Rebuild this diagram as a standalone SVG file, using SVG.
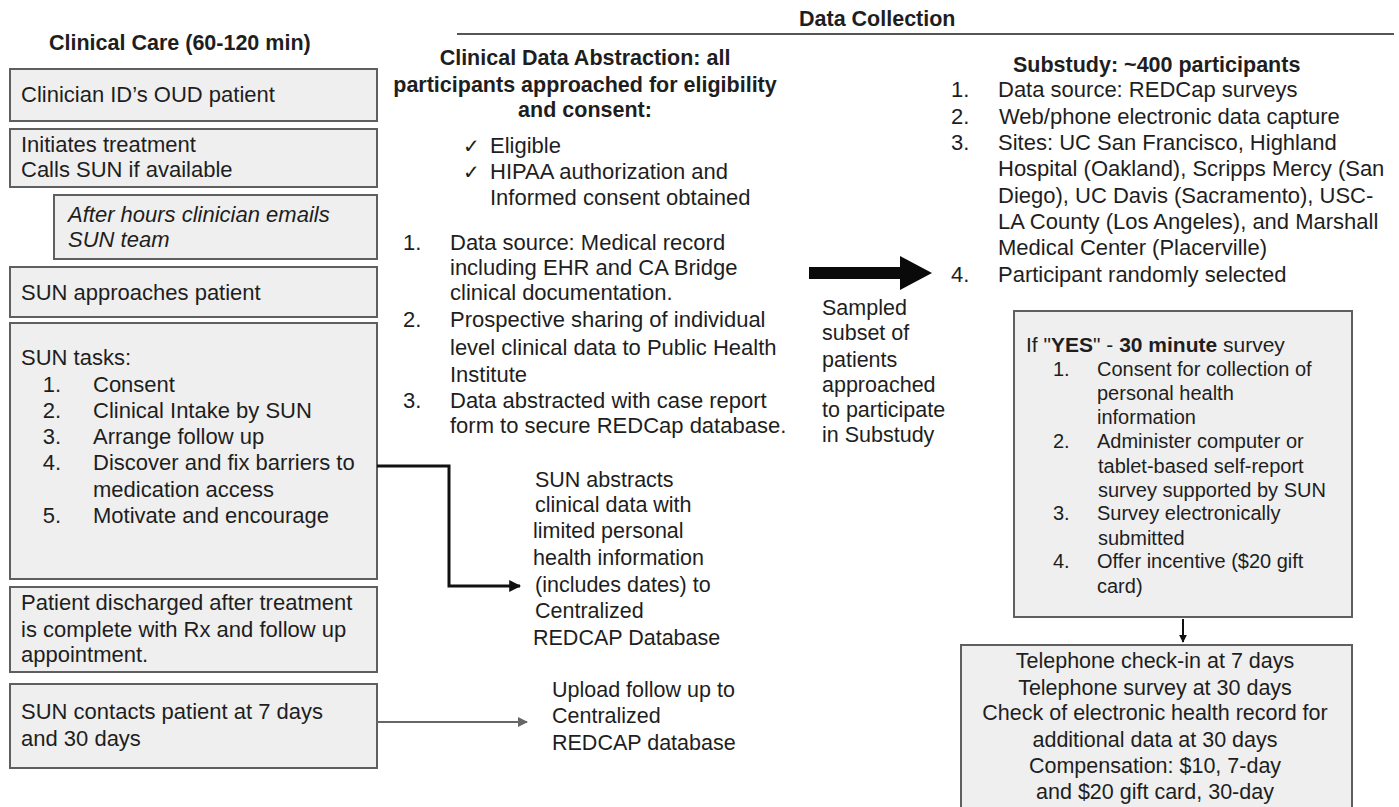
<svg xmlns="http://www.w3.org/2000/svg" width="1399" height="807" viewBox="0 0 1399 807">
<defs>
<style>
text{font-family:"Liberation Sans",Arial,sans-serif;font-size:21.5px;fill:#1e1e1e}
.r{font-size:22px}
.b{font-weight:bold;font-size:21.5px}
.i{font-style:italic}
.box{fill:#efefef;stroke:#5f5f5f;stroke-width:2}
.sm{font-size:20px}
.ck{font-family:"DejaVu Sans",sans-serif;font-size:20px}
.c{text-anchor:middle}
</style>
<marker id="ah" viewBox="0 0 10 10" refX="9" refY="5" markerWidth="4" markerHeight="4" orient="auto"><path d="M0,0 L10,5 L0,10 z" fill="#111"/></marker>
<marker id="ahg" viewBox="0 0 10 10" refX="9" refY="5" markerWidth="5" markerHeight="5" orient="auto"><path d="M0,0 L10,5 L0,10 z" fill="#666"/></marker>
</defs>
<rect width="1399" height="807" fill="#fff"/>

<g id="header">
<text class="b" x="799" y="26">Data Collection</text>
<line x1="457" y1="34" x2="1394" y2="34" stroke="#555" stroke-width="2"/>
<text class="b" x="49" y="50">Clinical Care (60-120 min)</text>
</g>

<g id="n1"><rect class="box" x="10" y="69" width="367" height="52"/>
<text class="r" x="21" y="102">Clinician ID’s OUD patient</text></g>

<g id="n2"><rect class="box" x="10" y="129" width="367" height="58"/>
<text class="r" x="21" y="152">Initiates treatment</text>
<text class="r" x="21" y="177">Calls SUN if available</text></g>

<g id="n3"><rect class="box" x="54" y="195" width="323" height="64"/>
<text class="r i" x="68" y="222">After hours clinician emails</text>
<text class="r i" x="68" y="247">SUN team</text></g>

<g id="n4"><rect class="box" x="10" y="267" width="367" height="50"/>
<text class="r" x="21" y="300">SUN approaches patient</text></g>

<g id="n5"><rect class="box" x="10" y="323" width="367" height="256"/>
<text class="r" x="21" y="365">SUN tasks:</text>
<text class="r" x="61" y="392" text-anchor="end">1.</text><text class="r" x="93" y="392">Consent</text>
<text class="r" x="61" y="418" text-anchor="end">2.</text><text class="r" x="93" y="418">Clinical Intake by SUN</text>
<text class="r" x="61" y="444" text-anchor="end">3.</text><text class="r" x="93" y="444">Arrange follow up</text>
<text class="r" x="61" y="470" text-anchor="end">4.</text><text class="r" x="93" y="470">Discover and fix barriers to</text>
<text class="r" x="93" y="497">medication access</text>
<text class="r" x="61" y="523" text-anchor="end">5.</text><text class="r" x="93" y="523">Motivate and encourage</text></g>

<g id="n6"><rect class="box" x="10" y="587" width="367" height="85"/>
<text class="r" x="21" y="610">Patient discharged after treatment</text>
<text class="r" x="21" y="637">is complete with Rx and follow up</text>
<text class="r" x="21" y="662">appointment.</text></g>

<g id="n7"><rect class="box" x="10" y="684" width="367" height="84"/>
<text class="r" x="21" y="719">SUN contacts patient at 7 days</text>
<text class="r" x="21" y="746">and 30 days</text></g>

<g id="abstraction">
<text class="b c" x="585" y="65">Clinical Data Abstraction: all</text>
<text class="b c" x="585" y="92">participants approached for eligibility</text>
<text class="b c" x="585" y="117">and consent:</text>
<text class="ck" x="463" y="153">✓</text><text class="r" x="490" y="153">Eligible</text>
<text class="ck" x="463" y="179">✓</text><text class="r" x="490" y="179">HIPAA authorization and</text>
<text class="r" x="490" y="205">Informed consent obtained</text>
<text class="r" x="403" y="250">1.</text><text class="r" x="450" y="250">Data source: Medical record</text>
<text class="r" x="450" y="275">including EHR and CA Bridge</text>
<text class="r" x="450" y="300">clinical documentation.</text>
<text class="r" x="403" y="327">2.</text><text class="r" x="450" y="327">Prospective sharing of individual</text>
<text class="r" x="450" y="355">level clinical data to Public Health</text>
<text class="r" x="450" y="382">Institute</text>
<text class="r" x="403" y="408">3.</text><text class="r" x="450" y="408">Data abstracted with case report</text>
<text class="r" x="450" y="433">form to secure REDCap database.</text>
</g>

<g id="sun-abstracts">
<text x="535" y="487">SUN abstracts</text>
<text x="535" y="512">clinical data with</text>
<text x="533" y="538">limited personal</text>
<text x="533" y="565">health information</text>
<text x="535" y="592">(includes dates) to</text>
<text x="535" y="618">Centralized</text>
<text x="533" y="645">REDCAP Database</text>
</g>

<g id="upload">
<text x="552" y="697">Upload follow up to</text>
<text x="552" y="723">Centralized</text>
<text x="552" y="750">REDCAP database</text>
</g>

<g id="sampled">
<text x="822" y="315">Sampled</text>
<text x="822" y="340">subset of</text>
<text x="822" y="367">patients</text>
<text x="822" y="392">approached</text>
<text x="822" y="417">to participate</text>
<text x="822" y="442">in Substudy</text>
</g>

<g id="substudy">
<text class="b" x="1013" y="72">Substudy: ~400 participants</text>
<text class="r" x="951" y="97">1.</text><text class="r" x="998" y="97">Data source: REDCap surveys</text>
<text class="r" x="951" y="124">2.</text><text class="r" x="999" y="124">Web/phone electronic data capture</text>
<text class="r" x="951" y="150">3.</text><text class="r" x="998" y="150">Sites: UC San Francisco, Highland</text>
<text class="r" x="998" y="176">Hospital (Oakland), Scripps Mercy (San</text>
<text class="r" x="998" y="203">Diego), UC Davis (Sacramento), USC-</text>
<text class="r" x="998" y="229">LA County (Los Angeles), and Marshall</text>
<text class="r" x="998" y="255">Medical Center (Placerville)</text>
<text class="r" x="951" y="282">4.</text><text class="r" x="998" y="282">Participant randomly selected</text>
</g>

<g id="yes-box"><rect class="box" x="1014" y="311" width="338" height="306"/>
<text x="1026" y="352" style="font-size:21px">If "<tspan style="font-weight:bold">YES</tspan>" - <tspan style="font-weight:bold">30 minute</tspan> survey</text>
<text class="sm" x="1053" y="376">1.</text><text class="sm" x="1097" y="376">Consent for collection of</text>
<text class="sm" x="1097" y="400">personal health</text>
<text class="sm" x="1097" y="424">information</text>
<text class="sm" x="1053" y="448">2.</text><text class="sm" x="1097" y="448">Administer computer or</text>
<text class="sm" x="1098" y="473">tablet-based self-report</text>
<text class="sm" x="1098" y="497">survey supported by SUN</text>
<text class="sm" x="1053" y="520">3.</text><text class="sm" x="1097" y="520">Survey electronically</text>
<text class="sm" x="1098" y="545">submitted</text>
<text class="sm" x="1053" y="568">4.</text><text class="sm" x="1097" y="568">Offer incentive ($20 gift</text>
<text class="sm" x="1097" y="593">card)</text></g>

<g id="followup-box"><rect class="box" x="961" y="645" width="391" height="175"/>
<text class="c" x="1155" y="668">Telephone check-in at 7 days</text>
<text class="c" x="1155" y="695">Telephone survey at 30 days</text>
<text class="c" x="1155" y="720">Check of electronic health record for</text>
<text class="c" x="1155" y="747">additional data at 30 days</text>
<text class="c" x="1155" y="773">Compensation: $10, 7-day</text>
<text class="c" x="1155" y="799">and $20 gift card, 30-day</text></g>

<g id="connectors">
<polyline points="377,466 449,466 449,586 520,586" fill="none" stroke="#111" stroke-width="3" marker-end="url(#ah)"/>
<line x1="377" y1="722" x2="527" y2="722" stroke="#666" stroke-width="2" marker-end="url(#ahg)"/>
<polygon points="809,267 900,267 900,256 932,273 900,290 900,279 809,279" fill="#0a0a0a"/>
<line x1="1183" y1="619" x2="1183" y2="642" stroke="#111" stroke-width="2" marker-end="url(#ah)"/>
</g>
</svg>
